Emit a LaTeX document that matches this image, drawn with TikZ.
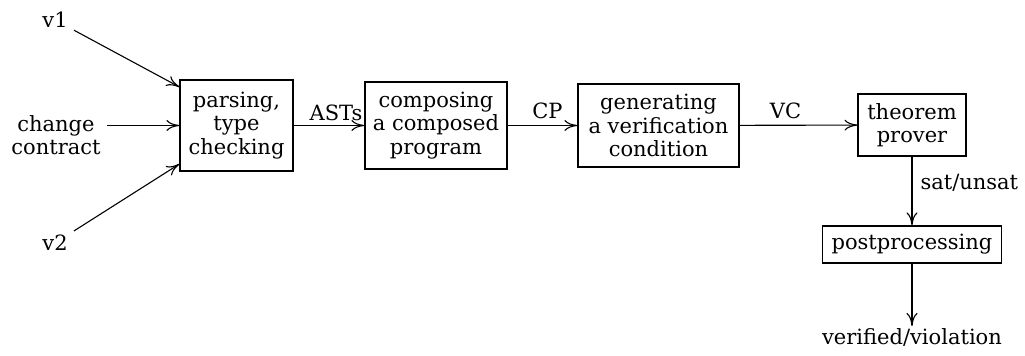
\documentclass[tikz,border=0pt]{standalone}
\usepackage{fontspec}
\setmainfont{DejaVu Serif}
\usetikzlibrary{arrows.meta}
\begin{document}
\begin{tikzpicture}[x=0.5pt,y=-0.5pt,
  every node/.style={font=\fontsize{10.5}{11.7}\selectfont},
  stage/.style={draw, line width=0.55pt, align=center, inner sep=0pt},
  flow/.style={-{To[length=6.5pt,width=5.5pt]}, line width=0.55pt},
  term/.style={align=center, inner sep=3pt}]
\useasboundingbox (0,0) rectangle (1025,356);

% processing stages
\node[stage, minimum width=56.5pt, minimum height=45.5pt] (parse) at (236.5,125.5) {parsing,\\type\\checking};
\node[stage, minimum width=71pt, minimum height=43.5pt] (compose) at (436,125.5) {composing\\a composed\\program};
\node[stage, minimum width=80.5pt, minimum height=41.5pt] (gen) at (658.5,125.5) {generating\\a verification\\condition};
\node[stage, minimum width=54pt, minimum height=31pt] (prover) at (912,125) {theorem\\prover};
\node[stage, minimum width=89.5pt, minimum height=18.5pt] (post) at (912,244.5) {postprocessing};

% inputs and result
\node[term] (v1) at (55,20) {v1};
\node[term] (cc) at (56,135) {change\\contract};
\node[term] (v2) at (55,243) {v2};
\node[term, inner sep=1pt, anchor=north] (res) at (912,326) {verified/violation};

% connectors
\draw[flow] (v1) -- (parse.146);
\draw[flow] (cc.east |- parse.west) -- (parse.west);
\draw[flow] (v2) -- (parse.214);
\draw[flow] (parse) -- node[above, pos=0.6, inner sep=2pt] {ASTs} (compose);
\draw[flow] (compose) -- node[above, pos=0.57, inner sep=3pt] {CP} (gen);
\draw[flow] (gen) -- node[above, pos=0.39, inner sep=3pt] {VC} (prover);
\draw[flow] (prover) -- node[right, pos=0.38, inner sep=4pt] {sat/unsat} (post);
\draw[flow] (post) -- (res);
\end{tikzpicture}
\end{document}
